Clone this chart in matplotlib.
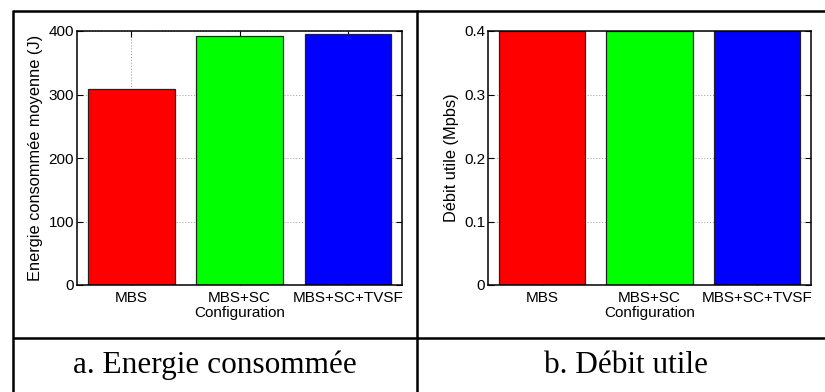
import matplotlib
matplotlib.use("Agg")
import matplotlib.pyplot as plt
from matplotlib.lines import Line2D
from matplotlib.ticker import FuncFormatter

# ---- data ----
categories = ["MBS", "MBS+SC", "MBS+SC+TVSF"]
energie = [308, 392, 396]
debit = [0.4, 0.4, 0.4]
bar_colors = ["#ff0000", "#00ff00", "#0000ff"]
energie_ticks = [0, 100, 200, 300, 400]
debit_ticks = [0, 0.1, 0.2, 0.3, 0.4]
xlabel = "Configuration"
ylabel_a = "Energie consommée moyenne (J)"
ylabel_b = "Débit utile (Mpbs)"
caption_a = "a. Energie consommée"
caption_b = "b. Débit utile"

W, H = 825, 392
fig = plt.figure(figsize=(W / 100, H / 100), dpi=100)
sans = ["Liberation Sans", "DejaVu Sans"]
serif = ["Liberation Serif", "DejaVu Serif"]
FS = 11


def px(x0, y0, x1, y1):
    return [x0 / W, 1 - y1 / H, (x1 - x0) / W, (y1 - y0) / H]


def fmt(v, pos):
    return "%g" % v


def draw(ax, vals, ticks, ylabel):
    x = list(range(1, len(categories) + 1))
    ax.bar(x, vals, width=0.8, color=bar_colors, edgecolor="#222222",
           linewidth=0.9, zorder=2)
    ax.set_xlim(0.5, 3.5)
    ax.set_ylim(ticks[0], ticks[-1])
    ax.set_yticks(ticks)
    ax.yaxis.set_major_formatter(FuncFormatter(fmt))
    ax.set_xticks(x)
    ax.set_xticklabels(categories, fontfamily=sans, fontsize=FS)
    for t in ax.get_yticklabels():
        t.set_fontfamily(sans)
        t.set_fontsize(FS)
    ax.tick_params(direction="in", top=True, right=True, length=4,
                   width=0.8)
    ax.tick_params(axis="x", pad=4.5)
    ax.tick_params(axis="y", pad=2)
    ax.grid(True, linestyle=(0, (1, 2)), color="#999999", linewidth=0.7,
            zorder=0)
    ax.set_axisbelow(True)
    for s in ax.spines.values():
        s.set_linewidth(1.1)
        s.set_zorder(3)
    ax.set_xlabel(xlabel, fontfamily=sans, fontsize=FS)
    ax.xaxis.set_label_coords(0.5, -0.083)
    ax.set_ylabel(ylabel, fontfamily=sans, fontsize=11.8, labelpad=4)


ax1 = fig.add_axes(px(77, 31, 402, 285))
draw(ax1, energie, energie_ticks, ylabel_a)
ax2 = fig.add_axes(px(488, 31, 811, 285))
draw(ax2, debit, debit_ticks, ylabel_b)

# ---- table borders ----
lw = 1.8
def hline(y, x0, x1):
    fig.add_artist(Line2D([x0 / W, x1 / W], [1 - y / H, 1 - y / H],
                          color="black", linewidth=lw, solid_capstyle="butt"))
def vline(x, y0, y1):
    fig.add_artist(Line2D([x / W, x / W], [1 - y0 / H, 1 - y1 / H],
                          color="black", linewidth=lw, solid_capstyle="butt"))

hline(10.5, 12.5, 826)
hline(337.5, 12.5, 826)
vline(13, 9.6, 393)
vline(417, 9.6, 393)

fig.text(215 / W, 1 - 373 / H, caption_a, fontfamily=serif, fontsize=22.5,
         ha="center", va="baseline")
fig.text(626 / W, 1 - 373 / H, caption_b, fontfamily=serif, fontsize=22.5,
         ha="center", va="baseline")

fig.savefig("out.png", dpi=100)
